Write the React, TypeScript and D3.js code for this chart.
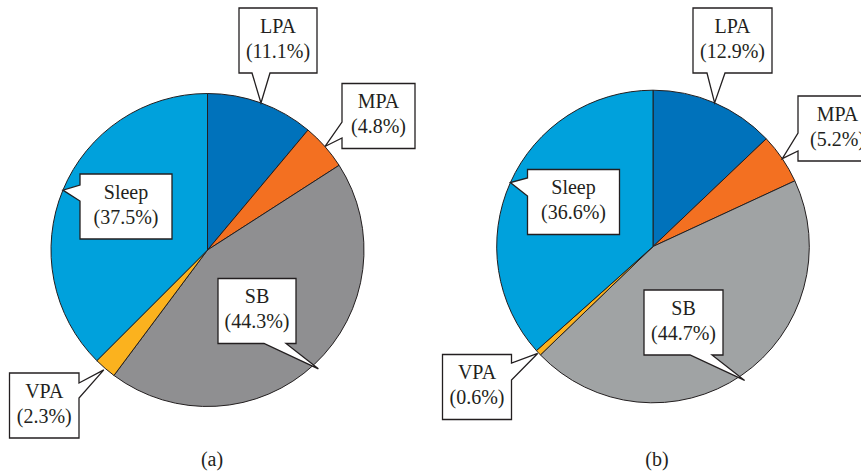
import React from "react";
import * as d3 from "d3";

const categories = ["LPA", "MPA", "SB", "VPA", "Sleep"];
const valuesA = [11.1, 4.8, 44.3, 2.3, 37.5];
const valuesB = [12.9, 5.2, 44.7, 0.6, 36.6];
const colorsA = ["#0072bb", "#f37021", "#8f8f91", "#fbb21e", "#00a1dc"];
const colorsB = ["#0072bb", "#f37021", "#a0a3a4", "#fbb21e", "#00a1dc"];
const captions = ["(a)", "(b)"];

type Callout = { x: number; y: number; w: number; h: number; side: "bottom" | "left" | "right"; a1: number; a2: number; extra: number };

const layoutA = {
  cx: 207.5, cy: 250, r: 156.5, capX: 212,
  callouts: [
    { x: 239, y: 8, w: 78, h: 65, side: "bottom", a1: 252, a2: 270, extra: 0 },
    { x: 342, y: 83.5, w: 73, h: 65, side: "left", a1: 122, a2: 138, extra: 0 },
    { x: 218, y: 278.5, w: 78, h: 65, side: "bottom", a1: 264, a2: 286, extra: 6 },
    { x: 9.5, y: 373, w: 69.5, h: 65, side: "right", a1: 383, a2: 398, extra: 2 },
    { x: 80, y: 174, w: 92, h: 65, side: "left", a1: 185, a2: 201, extra: 0 },
  ] as Callout[],
};
const layoutB = {
  cx: 653, cy: 246.5, r: 156.3, capX: 657,
  callouts: [
    { x: 693, y: 8, w: 79, h: 65, side: "bottom", a1: 707, a2: 725, extra: 0 },
    { x: 798, y: 96, w: 79, h: 65, side: "left", a1: 133, a2: 151, extra: 0 },
    { x: 644, y: 290, w: 79, h: 65, side: "bottom", a1: 690, a2: 712, extra: 6 },
    { x: 442.5, y: 354.5, w: 69, h: 65, side: "right", a1: 363, a2: 380, extra: 1 },
    { x: 527.5, y: 169.5, w: 92, h: 65, side: "left", a1: 178, a2: 196, extra: 0 },
  ] as Callout[],
};

const ink = "#231f20";
const font = "'Liberation Serif', 'DejaVu Serif', serif";
const fs = 20;

function Pie({ values, colors, layout, caption }: { values: number[]; colors: string[]; layout: typeof layoutA; caption: string }) {
  const pie = d3.pie<number>().sort(null).value((d) => d);
  const arcs = pie(values);
  const arc = d3.arc<d3.PieArcDatum<number>>().innerRadius(0).outerRadius(layout.r);
  const { cx, cy, r } = layout;
  return (
    <g>
      <g transform={`translate(${cx},${cy})`}>
        {arcs.map((a, i) => (
          <path key={i} d={arc(a) || ""} fill={colors[i]} stroke={ink} strokeWidth={1} strokeLinejoin="round" />
        ))}
      </g>
      {arcs.map((a, i) => {
        const c = layout.callouts[i];
        const mid = (a.startAngle + a.endAngle) / 2;
        const rr = r + c.extra;
        const tx = cx + rr * Math.sin(mid);
        const ty = cy - rr * Math.cos(mid);
        const { x, y, w, h } = c;
        let pts: [number, number][];
        if (c.side === "bottom") {
          pts = [[x, y], [x + w, y], [x + w, y + h], [c.a2, y + h], [tx, ty], [c.a1, y + h], [x, y + h]];
        } else if (c.side === "left") {
          pts = [[x, y], [x + w, y], [x + w, y + h], [x, y + h], [x, c.a2], [tx, ty], [x, c.a1]];
        } else {
          pts = [[x, y], [x + w, y], [x + w, c.a1], [tx, ty], [x + w, c.a2], [x + w, y + h], [x, y + h]];
        }
        return (
          <g key={"c" + i}>
            <polygon points={pts.map((p) => p.join(",")).join(" ")} fill="#fff" stroke={ink} strokeWidth={1.3} strokeLinejoin="miter" />
            <text x={x + w / 2} y={y + 24.5} textAnchor="middle" fontFamily={font} fontSize={fs} fill={ink}>{categories[i]}</text>
            <text x={x + w / 2} y={y + 49.5} textAnchor="middle" fontFamily={font} fontSize={fs} fill={ink}>{`(${values[i].toFixed(1)}%)`}</text>
          </g>
        );
      })}
      <text x={layout.capX} y={466} textAnchor="middle" fontFamily={font} fontSize={fs} fill={ink}>{caption}</text>
    </g>
  );
}

export default function App() {
  return (
    <svg width={861} height={474} style={{ position: "absolute", left: 0, top: 0, background: "#fff" }}>
      <rect width={861} height={474} fill="#fff" />
      <Pie values={valuesA} colors={colorsA} layout={layoutA} caption={captions[0]} />
      <Pie values={valuesB} colors={colorsB} layout={layoutB} caption={captions[1]} />
    </svg>
  );
}
